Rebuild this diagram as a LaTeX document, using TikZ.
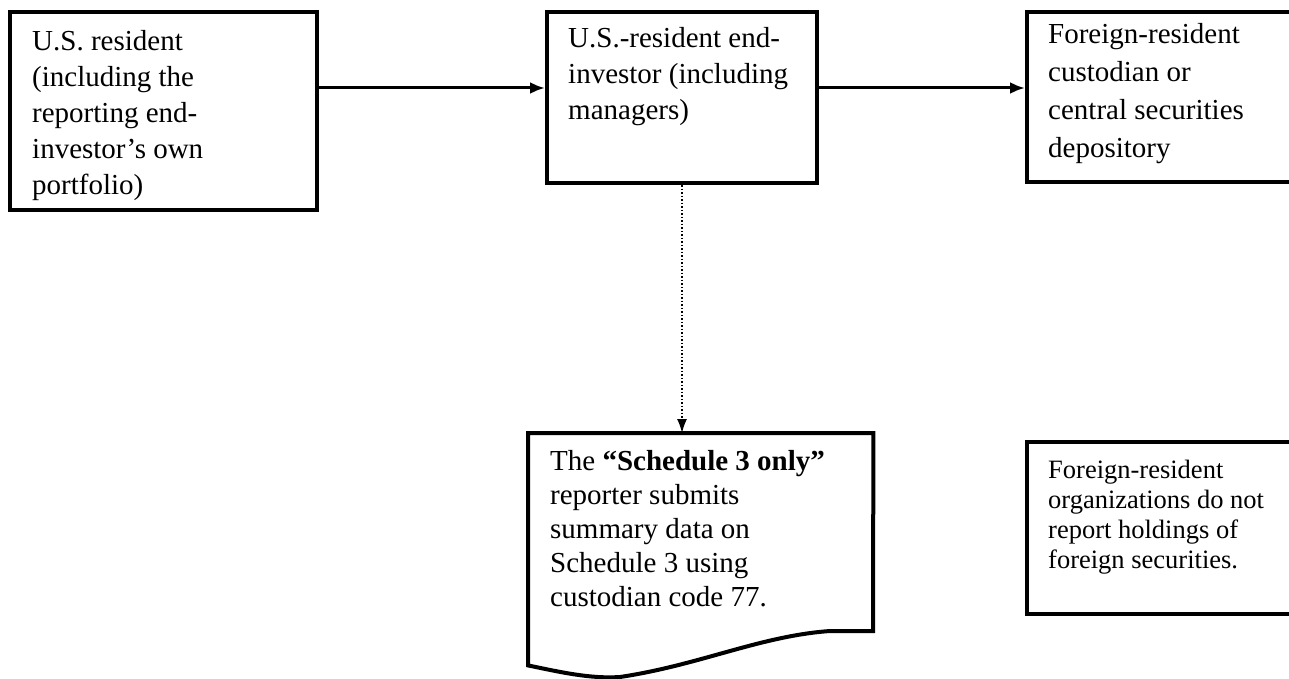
\documentclass[tikz,border=0pt]{standalone}
\usepackage{fontspec}
\setmainfont{Liberation Serif}
\usetikzlibrary{arrows.meta,positioning}

\begin{document}
\begin{tikzpicture}[x=1pt,y=-1pt,
    box/.style={draw, line width=4pt, anchor=north west, inner sep=0pt},
    txt/.style={inner sep=0pt, align=left, font=\fontsize{29}{36}\selectfont},
    arr/.style={line width=3pt, -{Latex[length=15pt,width=12pt]}},
    dotarr/.style={line width=1.5pt, dotted, -{Latex[length=14pt,width=10pt]}}]
  \path[use as bounding box, clip] (0,0) rectangle (1289,679);

  \node[box, minimum width=307pt, minimum height=198pt] (res) at (8,10) {};
  \node[box, minimum width=270pt, minimum height=171pt] (inv) at (545,10) {};
  \node[box, minimum width=270pt, minimum height=170pt] (cust) at (1025,10) {};
  \node[box, minimum width=270pt, minimum height=172pt] (org) at (1025,440) {};
  \node[anchor=north west, inner sep=0pt, minimum width=345pt, minimum height=232pt] (sched) at (528,433) {};
  \draw[line width=4pt, line join=miter]
    (sched.south west) -- (sched.north west) -- (sched.north east) -- (873,631) -- (830,631)
    .. controls (760,636) and (700,665) .. (620,677)
    .. controls (590,679) and (560,672) .. (sched.south west) -- cycle;

  \node[txt, below right=20pt and 24pt of res.north west] (restxt)
    {U.S. resident\\(including the\\reporting end-\\investor’s own\\portfolio)};
  \node[txt, below right=17pt and 23pt of inv.north west] (invtxt)
    {U.S.-resident end-\\investor (including\\managers)};
  \node[txt, font=\fontsize{29}{38}\selectfont, below right=13pt and 23pt of cust.north west] (custtxt)
    {Foreign-resident\\custodian or\\central securities\\depository};
  \node[txt, font=\fontsize{26.5}{30}\selectfont, below right=20pt and 23pt of org.north west] (orgtxt)
    {Foreign-resident\\organizations do not\\report holdings of\\foreign securities.};
  \node[txt, font=\fontsize{29}{34}\selectfont, below right=17pt and 22pt of sched.north west] (schedtxt)
    {The \textbf{“Schedule 3 only”}\\reporter submits\\summary data on\\Schedule 3 using\\custodian code 77.};

  \coordinate (ab) at ([yshift=23pt]res.east);
  \draw[arr] (ab) -- (ab -| inv.west);
  \draw[arr] (inv.east |- ab) -- (ab -| cust.west);
  \draw[dotarr] (inv.south) -- (inv.south |- sched.north);
\end{tikzpicture}
\end{document}
